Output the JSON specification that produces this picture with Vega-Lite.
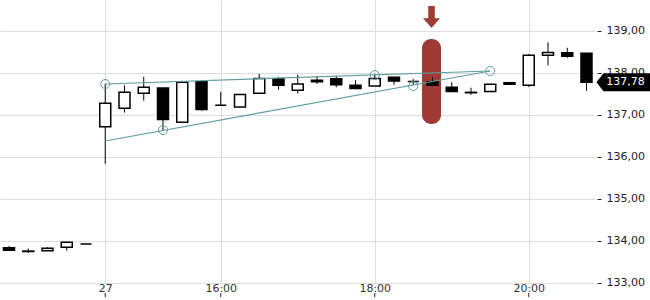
{
  "$schema": "https://vega.github.io/schema/vega-lite/v6.json",
  "width": 595,
  "height": 284,
  "padding": {"left": 0, "top": 0, "right": 55, "bottom": 16},
  "autosize": {"type": "none"},
  "config": {
    "font": "DejaVu Sans",
    "view": {"stroke": null},
    "axis": {"gridColor": "#dddddd", "domain": false, "labelFontSize": 11, "labelColor": "#222222", "title": null}
  },
  "datasets": {
    "candles": [
      {"i": 0, "o": 133.84, "h": 133.88, "l": 133.78, "c": 133.78},
      {"i": 1, "o": 133.76, "h": 133.82, "l": 133.71, "c": 133.75},
      {"i": 2, "o": 133.77, "h": 133.85, "l": 133.77, "c": 133.83},
      {"i": 3, "o": 133.85, "h": 133.97, "l": 133.77, "c": 133.97},
      {"i": 4, "o": 133.93, "h": 133.94, "l": 133.93, "c": 133.93},
      {"i": 5, "o": 136.72, "h": 137.74, "l": 135.84, "c": 137.28},
      {"i": 6, "o": 137.16, "h": 137.71, "l": 137.06, "c": 137.54},
      {"i": 7, "o": 137.52, "h": 137.91, "l": 137.34, "c": 137.66},
      {"i": 8, "o": 137.64, "h": 137.64, "l": 136.62, "c": 136.89},
      {"i": 9, "o": 136.83, "h": 137.78, "l": 136.83, "c": 137.78},
      {"i": 10, "o": 137.79, "h": 137.83, "l": 137.10, "c": 137.13},
      {"i": 11, "o": 137.23, "h": 137.55, "l": 137.23, "c": 137.23},
      {"i": 12, "o": 137.19, "h": 137.49, "l": 137.19, "c": 137.49},
      {"i": 13, "o": 137.52, "h": 137.98, "l": 137.52, "c": 137.87},
      {"i": 14, "o": 137.86, "h": 137.91, "l": 137.60, "c": 137.71},
      {"i": 15, "o": 137.59, "h": 137.96, "l": 137.51, "c": 137.74},
      {"i": 16, "o": 137.83, "h": 137.93, "l": 137.74, "c": 137.79},
      {"i": 17, "o": 137.86, "h": 137.93, "l": 137.66, "c": 137.72},
      {"i": 18, "o": 137.71, "h": 137.83, "l": 137.63, "c": 137.63},
      {"i": 19, "o": 137.69, "h": 137.98, "l": 137.69, "c": 137.87},
      {"i": 20, "o": 137.90, "h": 137.90, "l": 137.72, "c": 137.81},
      {"i": 21, "o": 137.80, "h": 137.86, "l": 137.71, "c": 137.80},
      {"i": 22, "o": 137.79, "h": 137.90, "l": 137.71, "c": 137.71},
      {"i": 23, "o": 137.66, "h": 137.78, "l": 137.56, "c": 137.56},
      {"i": 24, "o": 137.54, "h": 137.65, "l": 137.48, "c": 137.53},
      {"i": 25, "o": 137.56, "h": 137.73, "l": 137.56, "c": 137.73},
      {"i": 26, "o": 137.77, "h": 137.79, "l": 137.73, "c": 137.73},
      {"i": 27, "o": 137.71, "h": 138.45, "l": 137.67, "c": 138.42},
      {"i": 28, "o": 138.42, "h": 138.73, "l": 138.18, "c": 138.49},
      {"i": 29, "o": 138.48, "h": 138.60, "l": 138.36, "c": 138.40},
      {"i": 30, "o": 138.47, "h": 138.47, "l": 137.58, "c": 137.78}
    ],
    "trend": [
      {"g": "a", "i": 5, "p": 137.738},
      {"g": "a", "i": 25, "p": 138.048},
      {"g": "b", "i": 5, "p": 136.381},
      {"g": "b", "i": 25, "p": 138.048}
    ],
    "anchors": [
      {"i": 5, "p": 137.738},
      {"i": 8, "p": 136.64},
      {"i": 19, "p": 137.952},
      {"i": 21, "p": 137.69},
      {"i": 25, "p": 138.048}
    ],
    "highlight": [
      {"i": 21.95, "top": 138.81, "bottom": 136.786, "arrow": 139.333}
    ],
    "xticks": [
      {"i": 5, "a": 132.762, "b": 132.667},
      {"i": 11, "a": 132.762, "b": 132.667},
      {"i": 19, "a": 132.762, "b": 132.667},
      {"i": 27, "a": 132.762, "b": 132.667}
    ],
    "last": [
      {"i": 31.92, "p": 137.78, "label": "137,78"}
    ]
  },
  "layer": [
    {
      "data": {"name": "highlight"},
      "mark": {"type": "bar", "size": 19, "cornerRadius": 9, "color": "#9e3b36"},
      "encoding": {
        "x": {
          "field": "i", "type": "quantitative",
          "scale": {"domain": [-0.4675, 30.442], "nice": false, "zero": false, "padding": 0},
          "axis": {
            "values": [5, 11, 19, 27],
            "labelExpr": "datum.value == 5 ? '27' : datum.value == 11 ? '16:00' : datum.value == 19 ? '18:00' : '20:00'",
            "grid": true, "ticks": false, "labelPadding": -2, "labelColor": "#333333"
          }
        },
        "y": {
          "field": "top", "type": "quantitative",
          "scale": {"domain": [132.976, 139.738], "nice": false, "zero": false},
          "axis": {
            "orient": "right",
            "values": [133, 134, 135, 136, 137, 138, 139],
            "labelExpr": "replace(format(datum.value, '.2f'), '.', ',')",
            "grid": true, "tickSize": 4, "tickColor": "#222222", "offset": 2, "labelPadding": 5
          }
        },
        "y2": {"field": "bottom"}
      }
    },
    {
      "data": {"name": "highlight"},
      "mark": {
        "type": "point", "filled": true, "color": "#9e3b36", "opacity": 1, "size": 484,
        "shape": "M-0.3,-1L0.3,-1L0.3,0.12L0.77,0.12L0,1L-0.77,0.12L-0.3,0.12Z"
      },
      "encoding": {
        "x": {"field": "i", "type": "quantitative", "scale": {"domain": [-0.4675, 30.442], "nice": false, "zero": false, "padding": 0}},
        "y": {"field": "arrow", "type": "quantitative", "scale": {"domain": [132.976, 139.738], "nice": false, "zero": false}}
      }
    },
    {
      "data": {"name": "xticks"},
      "mark": {"type": "rule", "color": "#222222", "strokeWidth": 1},
      "encoding": {
        "x": {"field": "i", "type": "quantitative", "scale": {"domain": [-0.4675, 30.442], "nice": false, "zero": false, "padding": 0}},
        "y": {"field": "a", "type": "quantitative", "scale": {"domain": [132.976, 139.738], "nice": false, "zero": false}},
        "y2": {"field": "b"}
      }
    },
    {
      "data": {"name": "candles"},
      "mark": {"type": "rule", "color": "black", "strokeWidth": 1},
      "encoding": {
        "x": {"field": "i", "type": "quantitative", "scale": {"domain": [-0.4675, 30.442], "nice": false, "zero": false, "padding": 0}},
        "y": {"field": "l", "type": "quantitative", "scale": {"domain": [132.976, 139.738], "nice": false, "zero": false}},
        "y2": {"field": "h"}
      }
    },
    {
      "data": {"name": "candles"},
      "mark": {"type": "bar", "size": 11, "stroke": "black", "strokeWidth": 1.5},
      "encoding": {
        "x": {"field": "i", "type": "quantitative", "scale": {"domain": [-0.4675, 30.442], "nice": false, "zero": false, "padding": 0}},
        "y": {"field": "o", "type": "quantitative", "scale": {"domain": [132.976, 139.738], "nice": false, "zero": false}},
        "y2": {"field": "c"},
        "fill": {"condition": {"test": "datum.o > datum.c", "value": "black"}, "value": "white"}
      }
    },
    {
      "data": {"name": "trend"},
      "mark": {"type": "line", "color": "#5f9ea0", "strokeWidth": 1.2},
      "encoding": {
        "x": {"field": "i", "type": "quantitative", "scale": {"domain": [-0.4675, 30.442], "nice": false, "zero": false, "padding": 0}},
        "y": {"field": "p", "type": "quantitative", "scale": {"domain": [132.976, 139.738], "nice": false, "zero": false}},
        "detail": {"field": "g"}
      }
    },
    {
      "data": {"name": "anchors"},
      "mark": {"type": "point", "shape": "circle", "size": 81, "filled": false, "color": "#5f9ea0", "strokeWidth": 1, "opacity": 1},
      "encoding": {
        "x": {"field": "i", "type": "quantitative", "scale": {"domain": [-0.4675, 30.442], "nice": false, "zero": false, "padding": 0}},
        "y": {"field": "p", "type": "quantitative", "scale": {"domain": [132.976, 139.738], "nice": false, "zero": false}}
      }
    },
    {
      "data": {"name": "last"},
      "mark": {
        "type": "point", "filled": true, "color": "black", "opacity": 1, "size": 2916,
        "shape": "M-1,0L-0.74,-0.33L1,-0.33L1,0.33L-0.74,0.33Z"
      },
      "encoding": {
        "x": {"field": "i", "type": "quantitative", "scale": {"domain": [-0.4675, 30.442], "nice": false, "zero": false, "padding": 0}},
        "y": {"field": "p", "type": "quantitative", "scale": {"domain": [132.976, 139.738], "nice": false, "zero": false}}
      }
    },
    {
      "data": {"name": "last"},
      "mark": {"type": "text", "color": "white", "fontSize": 11, "align": "center", "baseline": "middle", "dx": 2},
      "encoding": {
        "x": {"field": "i", "type": "quantitative", "scale": {"domain": [-0.4675, 30.442], "nice": false, "zero": false, "padding": 0}},
        "y": {"field": "p", "type": "quantitative", "scale": {"domain": [132.976, 139.738], "nice": false, "zero": false}},
        "text": {"field": "label"}
      }
    }
  ]
}
